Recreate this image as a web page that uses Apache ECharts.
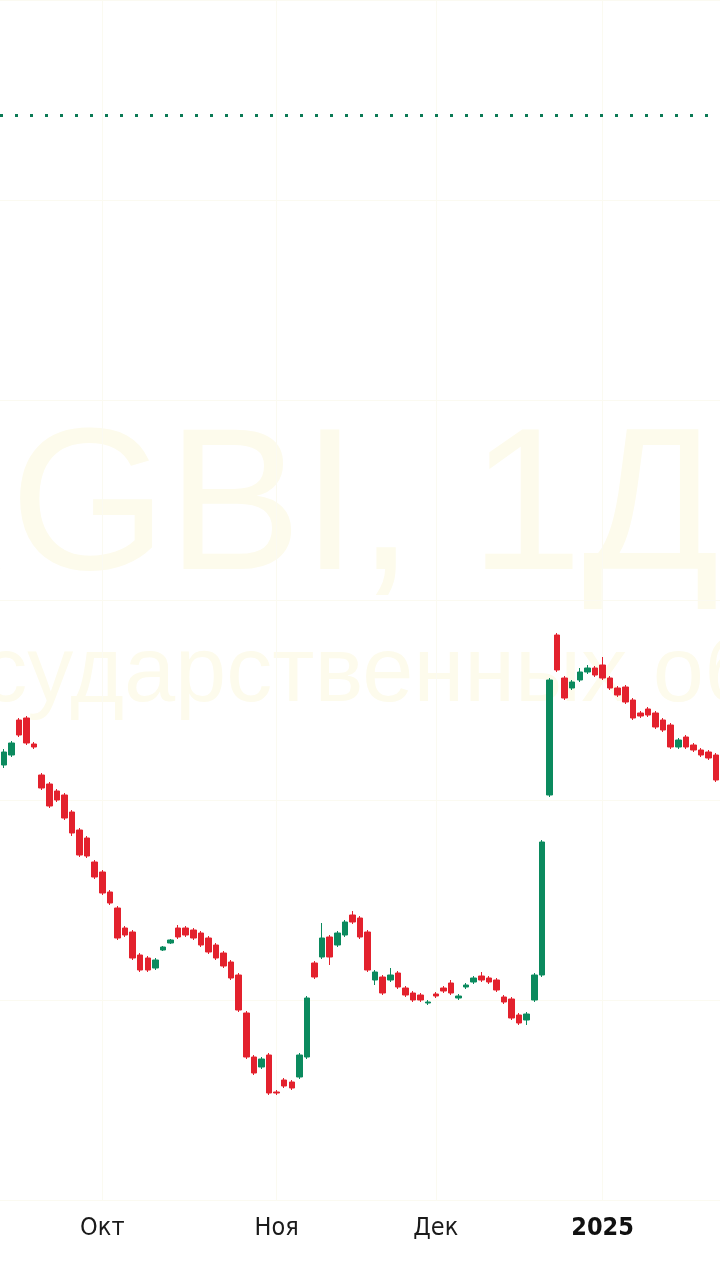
<!DOCTYPE html>
<html>
<head>
<meta charset="utf-8">
<script src="https://cdn.jsdelivr.net/npm/echarts/dist/echarts.min.js"></script>
<style>
html,body{margin:0;padding:0;background:#ffffff;}
#chart{width:720px;height:1280px;}
</style>
</head>
<body>
<div id="chart"></div>
<script>
// Trading days (categories)
const dates = [
  '2024-09-12','2024-09-13','2024-09-16','2024-09-17','2024-09-18','2024-09-19','2024-09-20','2024-09-23','2024-09-24','2024-09-25','2024-09-26','2024-09-27','2024-09-30',
  '2024-10-01','2024-10-02','2024-10-03','2024-10-04','2024-10-07','2024-10-08','2024-10-09','2024-10-10','2024-10-11','2024-10-14','2024-10-15','2024-10-16','2024-10-17','2024-10-18','2024-10-21','2024-10-22','2024-10-23','2024-10-24','2024-10-25','2024-10-28','2024-10-29','2024-10-30','2024-10-31',
  '2024-11-01','2024-11-02','2024-11-05','2024-11-06','2024-11-07','2024-11-08','2024-11-11','2024-11-12','2024-11-13','2024-11-14','2024-11-15','2024-11-18','2024-11-19','2024-11-20','2024-11-21','2024-11-22','2024-11-25','2024-11-26','2024-11-27','2024-11-28','2024-11-29',
  '2024-12-02','2024-12-03','2024-12-04','2024-12-05','2024-12-06','2024-12-09','2024-12-10','2024-12-11','2024-12-12','2024-12-13','2024-12-16','2024-12-17','2024-12-18','2024-12-19','2024-12-20','2024-12-23','2024-12-24','2024-12-25','2024-12-26','2024-12-27','2024-12-28','2024-12-30',
  '2025-01-03','2025-01-06','2025-01-09','2025-01-10','2025-01-13','2025-01-14','2025-01-15','2025-01-16','2025-01-17','2025-01-20','2025-01-21','2025-01-22','2025-01-23','2025-01-24','2025-01-27','2025-01-28'
];

// Time-axis tick labels
const tickDates  = ['2024-10-01','2024-11-01','2024-12-02','2025-01-03'];
const tickLabels = ['Окт','Ноя','Дек','2025'];

// OHLC values (RGBI, daily)
const opens = [
  98.35,98.45,98.80,98.82,98.56,98.25,98.16,98.09,98.05,97.88,
  97.70,97.62,97.38,97.28,97.08,96.92,96.72,96.68,96.45,96.42,
  96.32,96.50,96.57,96.72,96.72,96.70,96.67,96.62,96.55,96.47,
  96.38,96.25,95.87,95.43,95.33,95.45,95.08,95.20,95.18,95.23,
  95.43,96.37,96.43,96.63,96.55,96.65,96.85,96.82,96.68,96.20,
  96.23,96.20,96.27,96.12,96.07,96.05,95.97,96.06,96.12,96.17,
  96.02,96.13,96.18,96.24,96.22,96.20,96.03,96.01,95.85,95.80,
  96.00,96.25,98.05,99.65,99.22,99.12,99.20,99.28,99.32,99.35,
  99.22,99.12,99.13,99.00,98.87,98.91,98.87,98.80,98.75,98.53,
  98.63,98.55,98.50,98.48,98.45
];
const closes = [
  98.48,98.57,98.65,98.57,98.53,98.12,97.94,98.00,97.82,97.67,
  97.45,97.44,97.23,97.07,96.97,96.62,96.65,96.42,96.30,96.30,
  96.40,96.53,96.60,96.63,96.65,96.62,96.55,96.48,96.42,96.34,
  96.22,95.90,95.43,95.27,95.41,95.07,95.07,95.14,95.12,95.45,
  96.02,96.23,96.62,96.43,96.67,96.78,96.78,96.63,96.30,96.28,
  96.07,96.25,96.13,96.05,96.00,96.00,95.98,96.04,96.09,96.07,
  96.04,96.15,96.22,96.20,96.18,96.10,95.98,95.82,95.77,95.86,
  96.25,97.58,99.20,99.30,99.02,99.18,99.28,99.32,99.25,99.22,
  99.12,99.05,98.98,98.82,98.84,98.85,98.73,98.70,98.53,98.60,
  98.53,98.50,98.45,98.42,98.20
];
const lows = [
  98.32,98.43,98.63,98.55,98.51,98.10,97.92,97.98,97.80,97.64,
  97.43,97.42,97.21,97.05,96.95,96.60,96.63,96.40,96.28,96.28,
  96.30,96.49,96.56,96.61,96.63,96.60,96.53,96.46,96.40,96.32,
  96.20,95.88,95.41,95.25,95.31,95.05,95.05,95.12,95.10,95.21,
  95.41,96.21,96.41,96.35,96.53,96.63,96.76,96.61,96.28,96.15,
  96.05,96.18,96.11,96.03,95.98,95.98,95.95,96.02,96.07,96.05,
  96.00,96.11,96.16,96.18,96.16,96.08,95.96,95.80,95.75,95.75,
  95.98,96.23,98.03,99.28,99.00,99.10,99.18,99.26,99.23,99.20,
  99.10,99.03,98.96,98.80,98.82,98.83,98.71,98.68,98.51,98.51,
  98.51,98.48,98.43,98.40,98.18
];
const highs = [
  98.51,98.59,98.82,98.84,98.58,98.27,98.18,98.11,98.07,97.90,
  97.72,97.64,97.40,97.30,97.10,96.94,96.74,96.70,96.47,96.44,
  96.42,96.54,96.61,96.75,96.74,96.72,96.69,96.64,96.57,96.49,
  96.40,96.27,95.89,95.45,95.43,95.47,95.10,95.22,95.20,95.47,
  96.04,96.39,96.77,96.65,96.69,96.80,96.89,96.84,96.70,96.30,
  96.25,96.32,96.29,96.14,96.09,96.07,96.00,96.08,96.14,96.20,
  96.06,96.17,96.24,96.28,96.24,96.22,96.05,96.03,95.87,95.88,
  96.27,97.60,99.22,99.67,99.24,99.20,99.32,99.35,99.34,99.43,
  99.24,99.14,99.15,99.02,98.89,98.93,98.89,98.82,98.77,98.62,
  98.65,98.57,98.52,98.50,98.47
];

// Horizontal level (dotted line)
const levelValue = 104.85;

// Watermark texts
const watermarkTitle = 'RGBI, 1Д';
const watermarkSubtitle = 'Индекс государственных облигаций';

const UP = '#0b8a5e';
const DOWN = '#e3212d';

const candleData = opens.map((o, i) => [o, closes[i], lows[i], highs[i]]);

const chart = echarts.init(document.getElementById('chart'), null, {renderer: 'canvas'});

const isTick = (idx, val) => tickDates.indexOf(val) >= 0;

chart.setOption({
  animation: false,
  backgroundColor: '#ffffff',
  graphic: [
    {
      type: 'text', z: -10, left: -136, top: 412, silent: true,
      style: {
        text: watermarkTitle,
        font: '202px "Liberation Sans", Arial, sans-serif',
        fill: '#fdfbec'
      }
    },
    {
      type: 'text', z: -10, left: -436, top: 630, silent: true,
      style: {
        text: watermarkSubtitle,
        font: '92px "Liberation Sans", Arial, sans-serif',
        fill: '#fdfbec'
      }
    }
  ],
  grid: {left: 0, right: 0, top: 0, bottom: 80, containLabel: false},
  xAxis: {
    type: 'category',
    data: dates,
    boundaryGap: true,
    axisLine: {show: false},
    axisTick: {show: false},
    axisLabel: {
      interval: isTick,
      margin: 16,
      formatter: function (val) {
        const k = tickDates.indexOf(val);
        if (k < 0) return '';
        const t = tickLabels[k];
        return /^\d{4}$/.test(t) ? '{y|' + t + '}' : '{m|' + t + '}';
      },
      rich: {
        m: {fontFamily: '"Liberation Sans Narrow", "DejaVu Sans Condensed", sans-serif', fontSize: 25, fontWeight: 500, color: '#1a1a1a'},
        y: {fontFamily: '"Liberation Sans Narrow", "DejaVu Sans Condensed", sans-serif', fontSize: 25, fontWeight: 'bold', color: '#111111'}
      }
    },
    splitLine: {
      show: true,
      interval: isTick,
      alignWithLabel: true,
      lineStyle: {color: '#fbfaf1', width: 1}
    }
  },
  yAxis: {
    type: 'value',
    min: 94,
    max: 106,
    interval: 2,
    axisLine: {show: false},
    axisTick: {show: false},
    axisLabel: {show: false},
    splitLine: {show: true, lineStyle: {color: '#fbfaf1', width: 1}}
  },
  series: [
    {
      type: 'candlestick',
      data: candleData,
      barWidth: 6,
      itemStyle: {
        color: UP, color0: DOWN,
        borderColor: UP, borderColor0: DOWN,
        borderWidth: 1
      },
      markLine: {
        silent: true,
        symbol: ['none', 'none'],
        label: {show: false},
        lineStyle: {color: '#0b7a55', type: [3, 12], width: 3, cap: 'butt'},
        data: [{yAxis: levelValue}]
      }
    }
  ]
});
</script>
</body>
</html>
